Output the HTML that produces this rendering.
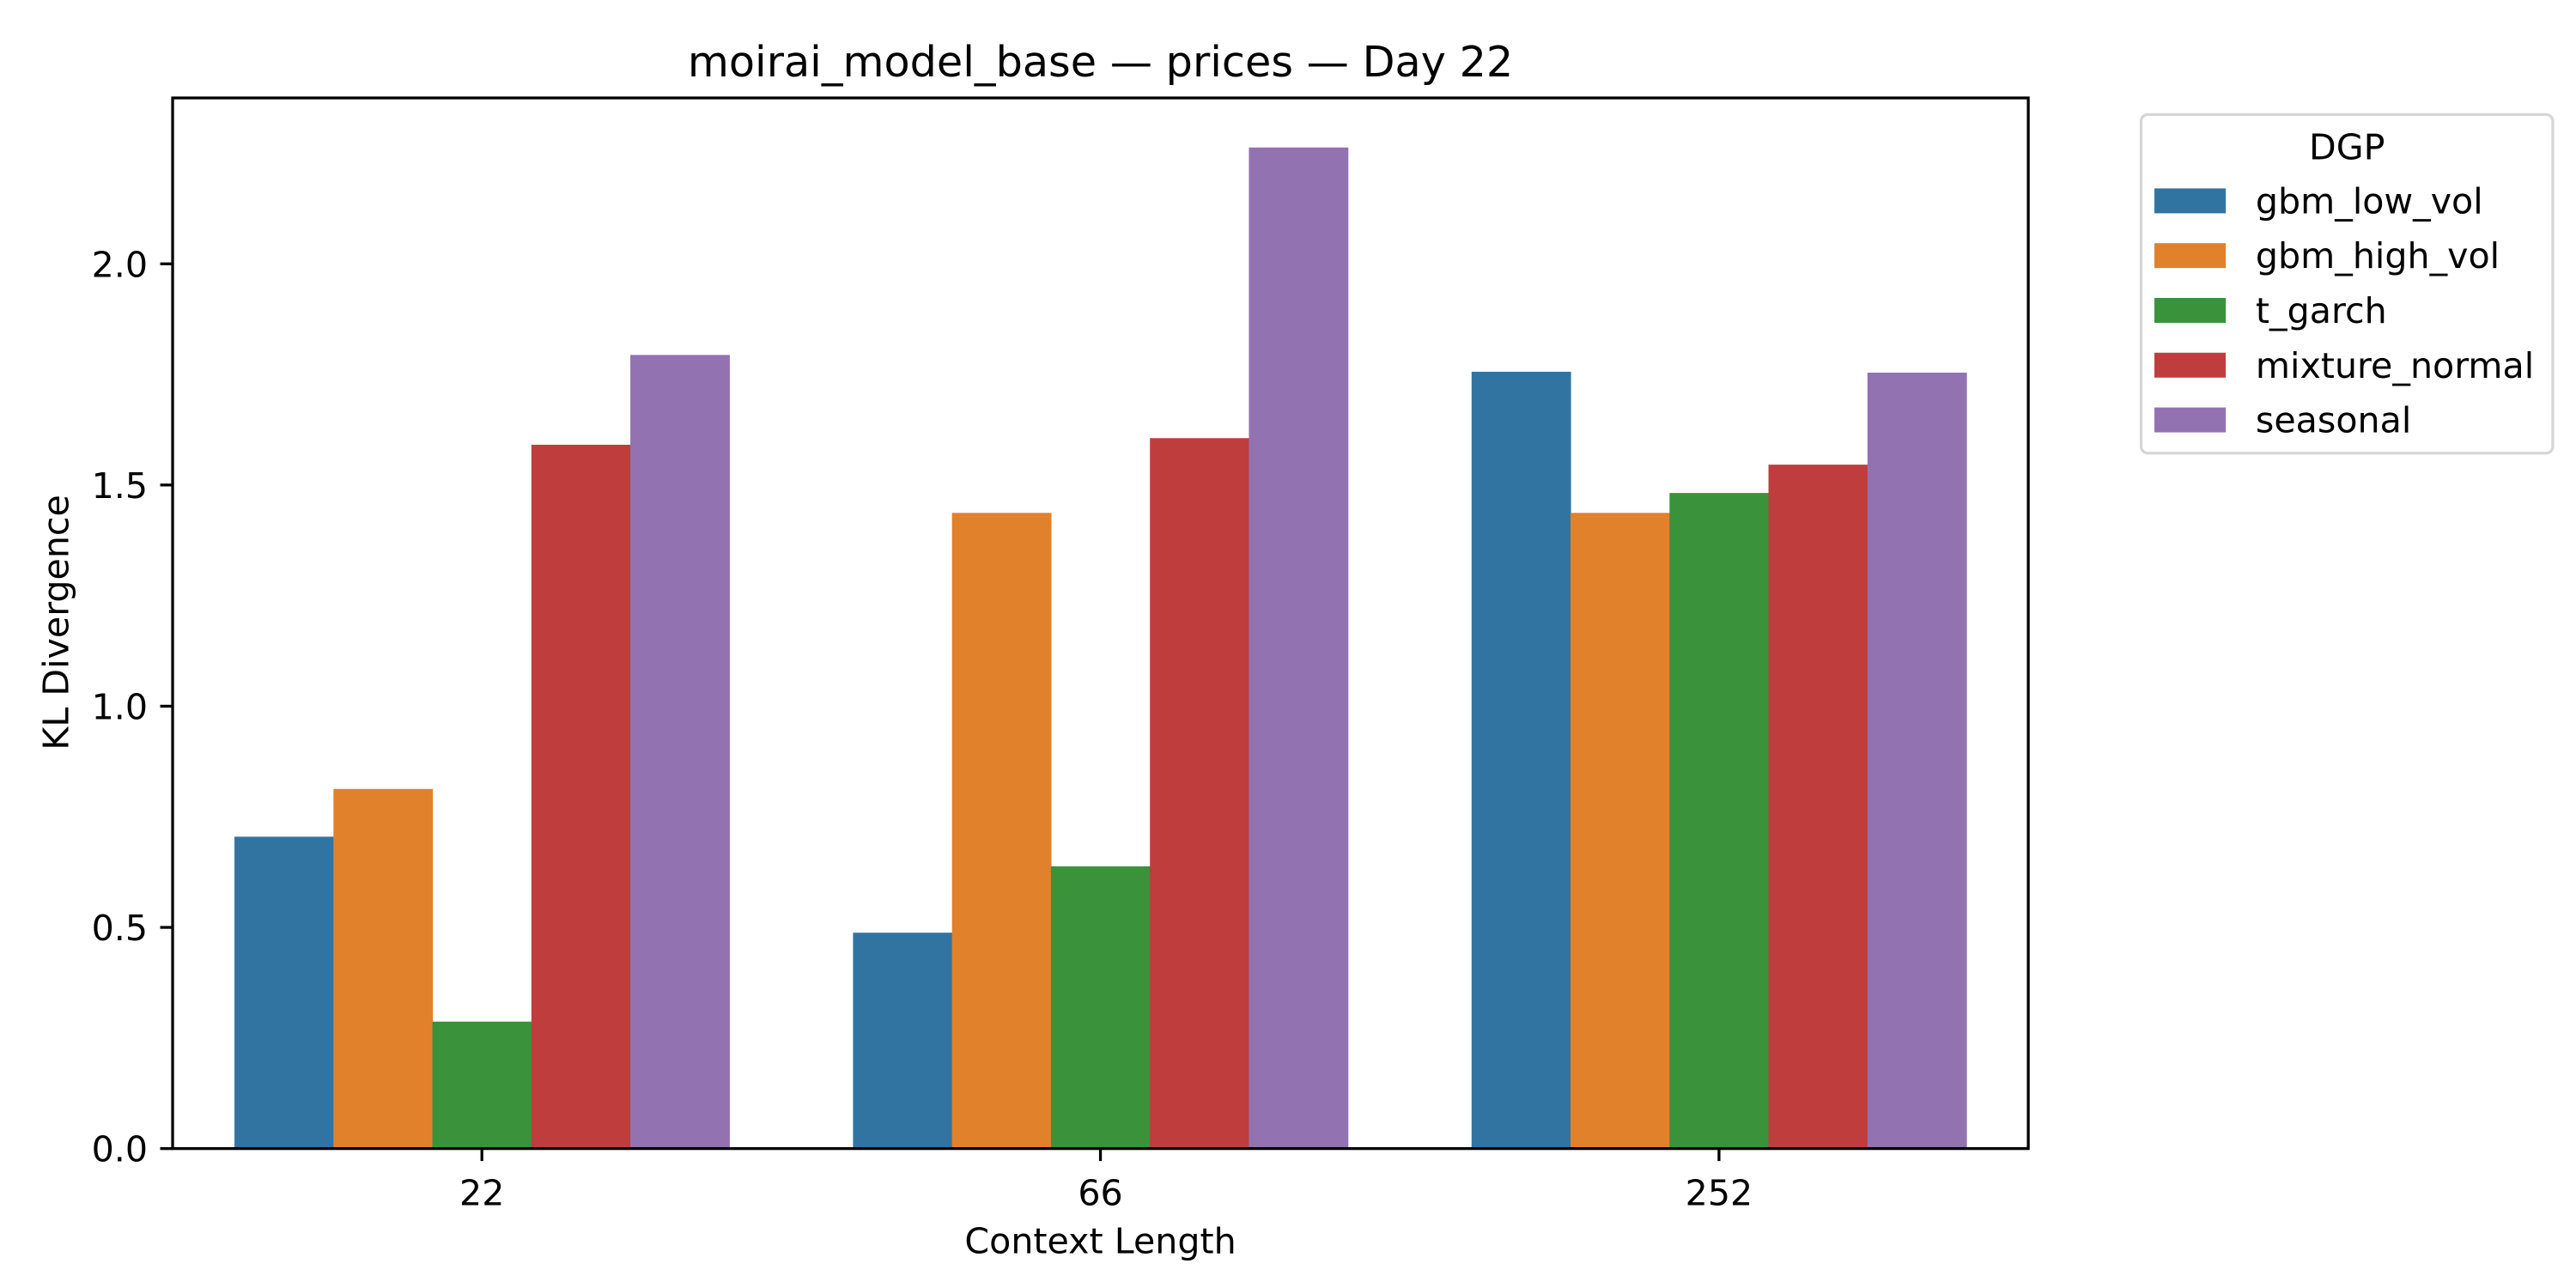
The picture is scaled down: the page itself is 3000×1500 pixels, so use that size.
<!DOCTYPE html>
<html><head><meta charset="utf-8"><style>html,body{margin:0;padding:0;background:#fff}svg{display:block;font-family:"DejaVu Sans","Liberation Sans",sans-serif}</style></head>
<body>
<svg id="chart" width="3000" height="1500" viewBox="0 0 1552 776" xmlns="http://www.w3.org/2000/svg">
<rect width="1552" height="776" fill="#fff"/>
<text x="663" y="46" font-size="25.5" text-anchor="middle" fill="#000">moirai_model_base — prices — Day 22</text>
<g id="bars"></g>
<g id="yticks"></g>
<g id="xticks"></g>
<rect x="104" y="59" width="1118" height="633" fill="none" stroke="#000" stroke-width="1.7"/>
<text transform="translate(41,375) rotate(-90)" font-size="21.3" text-anchor="middle">KL Divergence</text>
<text x="663" y="755" font-size="21.3" text-anchor="middle">Context Length</text>
<g id="legend">
<rect x="1290" y="69" width="248" height="204" rx="4" fill="#fff" stroke="#d6d6d6" stroke-width="1.7"/>
<text x="1414" y="96" font-size="21.3" text-anchor="middle">DGP</text>
</g>
</svg>
<script>
const categories = ["22", "66", "252"];
const seriesNames = ["gbm_low_vol", "gbm_high_vol", "t_garch", "mixture_normal", "seasonal"];
const gbmLowVol = [0.705, 0.488, 1.756];
const gbmHighVol = [0.813, 1.437, 1.437];
const tGarch = [0.287, 0.638, 1.482];
const mixtureNormal = [1.591, 1.606, 1.546];
const seasonal = [1.794, 2.263, 1.754];
const yTicks = [0, 0.5, 1.0, 1.5, 2.0];
const yTickLabels = ["0.0", "0.5", "1.0", "1.5", "2.0"];
const colors = ["#3274a1", "#e1812c", "#3a923a", "#c03d3e", "#9372b2"];
const series = [gbmLowVol, gbmHighVol, tGarch, mixtureNormal, seasonal];

const NS = "http://www.w3.org/2000/svg";
const L = 104, R = 1222, T = 59, B = 692;
const yMax = 2.375;
const y = v => B - v / yMax * (B - T);
const band = (R - L) / categories.length;
const xc = i => L + band * (i + 0.5);
const groupW = band * 0.8, barW = groupW / series.length;
function mk(tag, attrs, parent) { const e = document.createElementNS(NS, tag); for (const k in attrs) e.setAttribute(k, attrs[k]); parent.appendChild(e); return e; }

const gb = document.getElementById("bars");
series.forEach((s, si) => {
  s.forEach((v, ci) => {
    const r = mk("rect", { x: xc(ci) - groupW / 2 + si * barW, y: y(v), width: barW + 0.3, height: B - y(v), fill: colors[si] }, gb);
    
    
  });
});
const gy = document.getElementById("yticks");
yTicks.forEach((t, i) => {
  const ln = mk("line", { x1: L - 7.5, x2: L, y1: y(t), y2: y(t), stroke: "#000", "stroke-width": 1.7 }, gy);
  
  
  const tx = mk("text", { x: L - 15, y: y(t) + 7.8, "font-size": 21.3, "text-anchor": "end" }, gy);
  tx.textContent = yTickLabels[i];
  
  
});
const gx = document.getElementById("xticks");
categories.forEach((c, i) => {
  const ln = mk("line", { x1: xc(i), x2: xc(i), y1: B, y2: B + 7.5, stroke: "#000", "stroke-width": 1.7 }, gx);
  
  
  const tx = mk("text", { x: xc(i), y: B + 34, "font-size": 21.3, "text-anchor": "middle" }, gx);
  tx.textContent = c;
  
  
});
const lg = document.getElementById("legend");
seriesNames.forEach((n, i) => {
  const g = mk("g", {}, lg);
  
  
  const cy = 121 + i * 33;
  mk("rect", { x: 1298, y: cy - 7.5, width: 43, height: 15, fill: colors[i] }, g);
  const tx = mk("text", { x: 1359, y: cy + 7.5, "font-size": 21.3 }, g);
  tx.textContent = n;
});
</script>
</body></html>
